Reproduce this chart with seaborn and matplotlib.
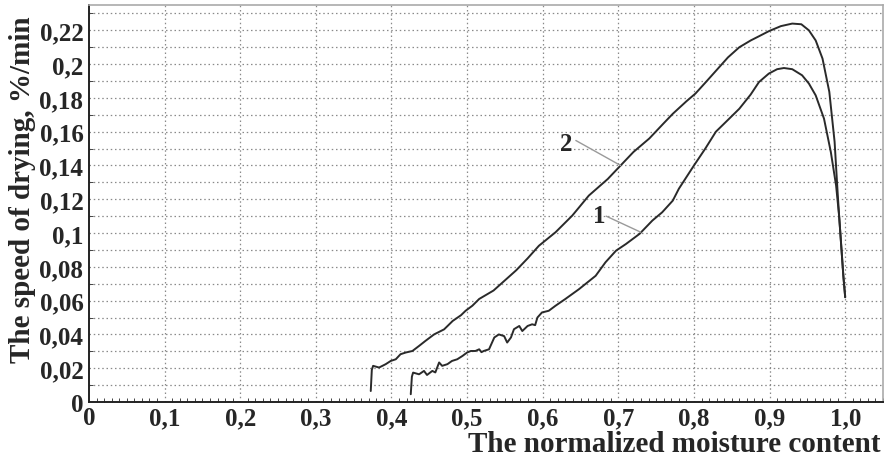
import numpy as np
import pandas as pd
import matplotlib
matplotlib.use("Agg")
import matplotlib.pyplot as plt
import seaborn as sns
from matplotlib.ticker import MultipleLocator, FixedLocator

# ---- data ----
x1 = [0.4255, 0.4270, 0.4286, 0.4365, 0.443, 0.447, 0.454, 0.458, 0.463, 0.467,
      0.474, 0.480, 0.487, 0.494, 0.500, 0.505, 0.511, 0.516, 0.519, 0.522, 0.529,
      0.536, 0.542, 0.549, 0.553, 0.558, 0.562, 0.569, 0.573, 0.580, 0.586, 0.590,
      0.593, 0.599, 0.608, 0.617, 0.630, 0.648, 0.670, 0.683, 0.697, 0.710, 0.728,
      0.745, 0.758, 0.772, 0.780, 0.800, 0.815, 0.829, 0.845, 0.860, 0.875, 0.886,
      0.899, 0.910, 0.919, 0.930, 0.943, 0.952, 0.961, 0.972, 0.981, 0.988, 0.992,
      0.9976, 1.000]
y1 = [0.0046, 0.0150, 0.0174, 0.0164, 0.0184, 0.0160, 0.0184, 0.0175, 0.0234, 0.0214,
      0.0224, 0.0243, 0.0253, 0.0273, 0.0293, 0.0302, 0.0302, 0.0312, 0.0295, 0.0302, 0.0312,
      0.0382, 0.0400, 0.0390, 0.0352, 0.0382, 0.0431, 0.0450, 0.0420, 0.0450, 0.0460, 0.0455,
      0.0500, 0.0530, 0.0540, 0.0570, 0.0610, 0.0668, 0.0747, 0.0827, 0.0896, 0.0935, 0.0995,
      0.1074, 0.1123, 0.1192, 0.1262, 0.1400, 0.1500, 0.1600, 0.1670, 0.1736, 0.1820, 0.1894,
      0.1944, 0.1970, 0.1977, 0.1970, 0.1934, 0.1885, 0.1815, 0.1677, 0.1480, 0.1280, 0.1100,
      0.0745, 0.0620]

x2 = [0.3726, 0.3740, 0.3757, 0.3836, 0.3924, 0.399, 0.4057, 0.412, 0.419, 0.4277,
      0.4365, 0.445, 0.4563, 0.4696, 0.481, 0.492, 0.498, 0.507, 0.516, 0.535, 0.550,
      0.565, 0.580, 0.595, 0.617, 0.639, 0.661, 0.686, 0.703, 0.720, 0.741, 0.760,
      0.772, 0.790, 0.802, 0.815, 0.829, 0.845, 0.860, 0.875, 0.886, 0.899, 0.915,
      0.930, 0.942, 0.952, 0.961, 0.970, 0.979, 0.986, 0.990, 0.992, 0.9976, 1.000]
y2 = [0.0065, 0.0190, 0.0214, 0.0204, 0.0224, 0.0243, 0.0253, 0.0283, 0.0293, 0.0302,
      0.0332, 0.0362, 0.0400, 0.0430, 0.0480, 0.0514, 0.0540, 0.0570, 0.0610, 0.0660, 0.0720,
      0.0780, 0.0850, 0.0925, 0.1005, 0.1103, 0.1222, 0.1320, 0.1400, 0.1480, 0.1560, 0.1650,
      0.1706, 0.1780, 0.1826, 0.1890, 0.1960, 0.2040, 0.2100, 0.2140, 0.2165, 0.2195, 0.2225,
      0.2240, 0.2236, 0.2200, 0.2140, 0.2033, 0.1836, 0.1540, 0.1240, 0.1100, 0.0745, 0.0620]

x_ticks = [0.0, 0.1, 0.2, 0.3, 0.4, 0.5, 0.6, 0.7, 0.8, 0.9, 1.0]
x_tick_labels = ["0", "0,1", "0,2", "0,3", "0,4", "0,5", "0,6", "0,7", "0,8", "0,9", "1,0"]
y_ticks = [0.0, 0.02, 0.04, 0.06, 0.08, 0.10, 0.12, 0.14, 0.16, 0.18, 0.20, 0.22]
y_tick_labels = ["0", "0,02", "0,04", "0,06", "0,08", "0,1", "0,12", "0,14", "0,16",
                 "0,18", "0,2", "0,22"]
curve_labels = ["1", "2"]
x_label = "The normalized moisture content"
y_label = "The speed of drying, %/min"

# ---- style ----
sns.set_style("white")
plt.rcParams['font.family'] = ['Liberation Serif', 'DejaVu Serif']
plt.rcParams['font.weight'] = 'bold'

fig = plt.figure(figsize=(8.85, 4.6), dpi=100)
L, R, B, T = 89, 883, 403, 6
ax = fig.add_axes([L / 885, (460 - B) / 460, (R - L) / 885, (B - T) / 460])

df1 = pd.DataFrame({"x": x1, "y": y1})
df2 = pd.DataFrame({"x": x2, "y": y2})
sns.lineplot(data=df1, x="x", y="y", sort=False, estimator=None, ax=ax,
             color="#2a2a2a", lw=1.4)
sns.lineplot(data=df2, x="x", y="y", sort=False, estimator=None, ax=ax,
             color="#2a2a2a", lw=1.4)

ax.set_xlim(0, 1.05)
ax.set_ylim(0, 0.235)

ax.xaxis.set_major_locator(FixedLocator(x_ticks))
ax.set_xticklabels(x_tick_labels)
ax.yaxis.set_major_locator(FixedLocator(y_ticks))
ax.set_yticklabels(y_tick_labels)
ax.xaxis.set_minor_locator(MultipleLocator(0.01))
ax.yaxis.set_minor_locator(MultipleLocator(0.01))

# grid
for xv in x_ticks[1:]:
    ax.axvline(xv, color="#8a8a8a", lw=0.9, ls=(0, (1.2, 2.2)), zorder=0)
for k in range(1, 24):
    ax.axhline(k * 0.01, color="#8a8a8a", lw=0.9, ls=(0, (1.2, 2.2)), zorder=0)

ax.tick_params(axis="both", which="major", labelsize=18, length=0, pad=4)
ax.tick_params(axis="x", which="major", pad=3)
ax.tick_params(axis="x", which="minor", direction="in", length=3, width=0.7,
               color="#444", bottom=True)
ax.tick_params(axis="y", which="minor", direction="in", length=3, width=0.7,
               color="#444", left=True)
for lab in ax.get_xticklabels() + ax.get_yticklabels():
    lab.set_fontweight("bold")

for side in ["left", "bottom"]:
    ax.spines[side].set_color("#222")
    ax.spines[side].set_linewidth(1.4)
for side in ["top", "right"]:
    ax.spines[side].set_color("#aaaaaa")
    ax.spines[side].set_linewidth(1.2)

ax.set_xlabel("")
ax.set_ylabel("")
fig.text(880 / 885, 1 - 445 / 460, x_label, ha="right", va="center",
         fontsize=21, fontweight="bold")
fig.text(23 / 885, 1 - 190 / 460, y_label, ha="center", va="center",
         rotation=90, fontsize=21, fontweight="bold")

# curve labels with leader lines
ax.plot([0.6438, 0.703], [0.1548, 0.1400], color="#9a9a9a", lw=1.0)
ax.text(0.6306, 0.1528, curve_labels[1], ha="center", va="center",
        fontsize=18, fontweight="bold")
ax.plot([0.6840, 0.7297], [0.1100, 0.1005], color="#9a9a9a", lw=1.0)
ax.text(0.675, 0.1103, curve_labels[0], ha="center", va="center",
        fontsize=18, fontweight="bold")

fig.savefig("out.png", dpi=100)
